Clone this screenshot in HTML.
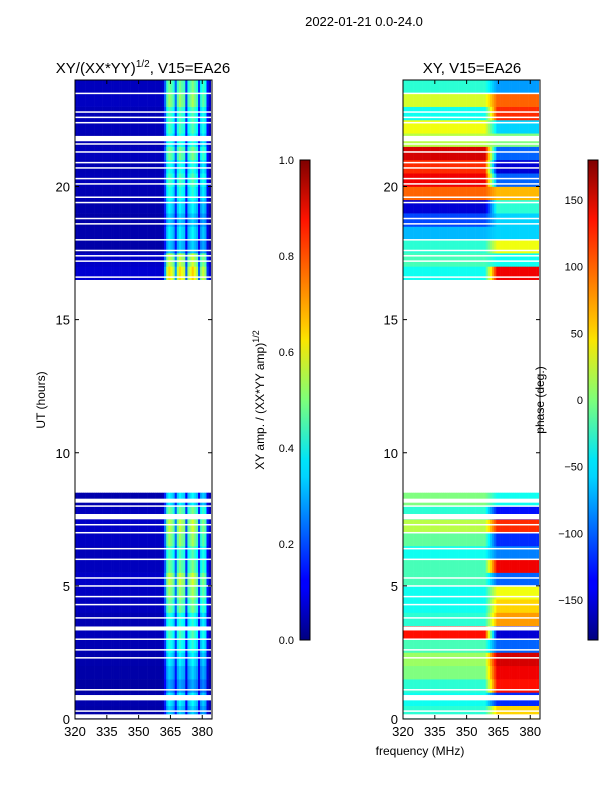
<!DOCTYPE html>
<html><head><meta charset="utf-8">
<style>
body{margin:0;background:#fff;}
svg text{font-family:"Liberation Sans",sans-serif;fill:#000;}
</style></head>
<body>
<svg id="fig" width="600" height="800" viewBox="0 0 600 800" xmlns="http://www.w3.org/2000/svg">
<defs>
<linearGradient id="jet" x1="0" y1="1" x2="0" y2="0">
<stop offset="0" stop-color="#00007f"/><stop offset="0.11" stop-color="#0000ff"/>
<stop offset="0.125" stop-color="#0000ff"/><stop offset="0.34" stop-color="#00d4ff"/>
<stop offset="0.375" stop-color="#00e4f8"/><stop offset="0.5" stop-color="#7dff7a"/>
<stop offset="0.625" stop-color="#fae500"/><stop offset="0.66" stop-color="#ffc400"/>
<stop offset="0.875" stop-color="#ff1300"/><stop offset="1" stop-color="#7f0000"/>
</linearGradient>
</defs>
<text x="364" y="26" font-size="13" text-anchor="middle">2022-01-21 0.0-24.0</text>
<text x="143" y="73" font-size="15" text-anchor="middle">XY/(XX*YY)<tspan font-size="10" dy="-6">1/2</tspan><tspan dy="6">, V15=EA26</tspan></text>
<text x="472" y="73" font-size="15" text-anchor="middle">XY, V15=EA26</text>
<text x="420" y="755" font-size="12" text-anchor="middle">frequency (MHz)</text>
<text transform="translate(45,400) rotate(-90)" font-size="12" text-anchor="middle">UT (hours)</text>
<g id="ampPlot"></g>
<g id="phPlot"></g>
<g id="axes"></g>
<rect x="300" y="160" width="10" height="480" fill="url(#jet)" stroke="#000" stroke-width="1"/>
<rect x="588" y="160" width="10" height="480" fill="url(#jet)" stroke="#000" stroke-width="1"/>
<text transform="translate(264,400) rotate(-90)" font-size="12" text-anchor="middle">XY amp. / (XX*YY amp)<tspan font-size="9" dy="-5">1/2</tspan></text>
<text transform="translate(544,400) rotate(-90)" font-size="12" text-anchor="middle">phase (deg.)</text>
</svg>
<script>
// ---- data ----
const freqTicks = [320, 335, 350, 365, 380];
const hourTicks = [0, 5, 10, 15, 20];
const ampTicks = [0.0, 0.2, 0.4, 0.6, 0.8, 1.0];
const phaseTicks = [-150, -100, -50, 0, 50, 100, 150];
// amplitude frequency profile, 1 MHz channels from 320 to 383
const ampProfile = [
0.05,0.05,0.05,0.05,0.05,0.05,0.05,0.05,0.05,0.05,0.05,0.05,0.05,0.05,0.05,0.05,
0.05,0.05,0.05,0.05,0.05,0.05,0.05,0.05,0.05,0.05,0.05,0.05,0.05,0.05,0.05,0.05,
0.05,0.05,0.05,0.05,0.05,0.05,0.05,0.05,0.05,0.06,0.18,0.36,0.41,0.38,0.34,0.18,
0.36,0.41,0.38,0.36,0.14,0.34,0.38,0.42,0.38,0.34,0.14,0.32,0.36,0.32,0.11,0.05];
// half-hour rows 0..47 (null = no data)
const ampRowScale = [0.8,0.9,0.7,0.8,0.9,1.0,1.1,1.0,1.2,1.3,1.4,1.2,1.1,1.3,1.4,1.2,0.9,
null,null,null,null,null,null,null,null,null,null,null,null,null,null,null,null,
1.6,1.4,0.8,0.9,0.8,0.9,1.0,1.1,1.0,1.2,1.0,1.1,1.1,1.3,1.2];
const phaseLow = [-30,-40,-30,0,10,-20,130,-30,-40,-40,-20,-20,-40,-10,20,-30,0,
null,null,null,null,null,null,null,null,null,null,null,null,null,null,null,null,
-40,-20,-30,-70,-110,-150,100,140,120,150,20,40,-40,30,-30];
const phaseHigh = [60,-120,130,140,150,-100,-150,80,60,40,-100,140,-90,-120,120,-130,-40,
null,null,null,null,null,null,null,null,null,null,null,null,null,null,null,null,
140,-40,40,-60,-60,-30,70,-100,-150,-100,0,-60,120,100,-80];
const flagHours = [0.1,0.3,0.8,1.1,2.3,2.6,3.0,3.4,3.8,4.3,4.6,5.0,5.3,6.0,6.4,7.0,7.3,7.6,8.0,8.2,
16.6,17.2,17.4,17.6,18.0,18.6,18.8,19.4,19.6,20.1,20.3,20.7,20.9,21.3,21.6,21.8,22.4,22.6,22.8,23.5];
const flagWidths = [0.15,0.05,0.2,0.05,0.05,0.05,0.05,0.15,0.05,0.05,0.05,0.05,0.05,0.05,0.05,0.05,0.05,0.2,0.05,0.15,
0.05,0.05,0.05,0.05,0.05,0.05,0.05,0.05,0.05,0.05,0.05,0.05,0.05,0.05,0.05,0.2,0.05,0.05,0.05,0.05];

// ---- scales ----
const NS='http://www.w3.org/2000/svg';
const Y0=719, Y1=80;
function yH(h){return Y0-(h/24)*(Y0-Y1);}
function xF(f,x0){return x0+(f-320)*(137/64.6);}
function jet(v){v=Math.max(0,Math.min(1,v));
 const c=t=>Math.max(0,Math.min(1,1.5-Math.abs(4*v-t)));
 return 'rgb('+Math.round(255*c(3))+','+Math.round(255*c(2))+','+Math.round(255*c(1))+')';}
function mk(tag,attrs,parent){const e=document.createElementNS(NS,tag);for(const k in attrs)e.setAttribute(k,attrs[k]);parent.appendChild(e);return e;}

const ampG=document.getElementById('ampPlot'), phG=document.getElementById('phPlot');
const panels=[{x0:75,g:ampG,kind:'amp'},{x0:403,g:phG,kind:'ph'}];
panels.forEach(p=>{
 for(let r=0;r<48;r++){
  if(ampRowScale[r]===null) continue;
  for(let c=0;c<ampProfile.length;c++){
   const f=320+c;
   let col;
   if(p.kind==='amp'){col=jet(ampProfile[c]*ampRowScale[r]);}
   else{
    let t=Math.max(0,Math.min(1,(f-358)/6));
    let ph=phaseLow[r]*(1-t)+phaseHigh[r]*t;
    col=jet((ph+180)/360);
   }
   const x=xF(f,p.x0), w=xF(f+1,p.x0)-x;
   const rc=mk('rect',{x:x.toFixed(2),y:yH(r*0.5+0.5).toFixed(2),width:(w+0.3).toFixed(2),height:(yH(r*0.5)-yH(r*0.5+0.5)+0.3).toFixed(2),fill:col},p.g);
   
   
  }
 }
 flagHours.forEach((h,i)=>{
  const fr=mk('rect',{x:p.x0,y:yH(h+flagWidths[i]/2),width:137,height:Math.max(1.5,yH(h-flagWidths[i]/2)-yH(h+flagWidths[i]/2)),fill:'#fff'},p.g);
  
  
 });
});

const ax=document.getElementById('axes');
panels.forEach(p=>{
 const fr=mk('rect',{x:p.x0,y:Y1,width:137,height:Y0-Y1,fill:'none',stroke:'#000','stroke-width':1},ax);
 
 
 freqTicks.forEach(f=>{
  const x=xF(f,p.x0);
  mk('line',{x1:x,x2:x,y1:Y0,y2:Y0-4,stroke:'#000'},ax);
  mk('line',{x1:x,x2:x,y1:Y1,y2:Y1+4,stroke:'#000'},ax);
  const t=mk('text',{x:x,y:Y0+17,'font-size':13,'text-anchor':'middle'},ax);
  t.textContent=f;
  
  
 });
 hourTicks.forEach(h=>{
  const y=yH(h);
  mk('line',{x1:p.x0,x2:p.x0+4,y1:y,y2:y,stroke:'#000'},ax);
  mk('line',{x1:p.x0+137,x2:p.x0+133,y1:y,y2:y,stroke:'#000'},ax);
  const t=mk('text',{x:p.x0-5,y:y+5,'font-size':13,'text-anchor':'end'},ax);
  t.textContent=h;
  
  
 });
});
ampTicks.forEach(v=>{
 const y=640-v*480;
 mk('line',{x1:300,x2:304,y1:y,y2:y,stroke:'#000'},ax);
 mk('line',{x1:310,x2:306,y1:y,y2:y,stroke:'#000'},ax);
 const t=mk('text',{x:294,y:y+4,'font-size':11,'text-anchor':'end'},ax);
 t.textContent=v.toFixed(1);
 
 
});
phaseTicks.forEach(v=>{
 const y=640-(v+180)/360*480;
 mk('line',{x1:588,x2:592,y1:y,y2:y,stroke:'#000'},ax);
 mk('line',{x1:598,x2:594,y1:y,y2:y,stroke:'#000'},ax);
 const t=mk('text',{x:583,y:y+4,'font-size':11,'text-anchor':'end'},ax);
 t.textContent=v<0?'\u2212'+(-v):v;
 
 
});
</script>
</body></html>
